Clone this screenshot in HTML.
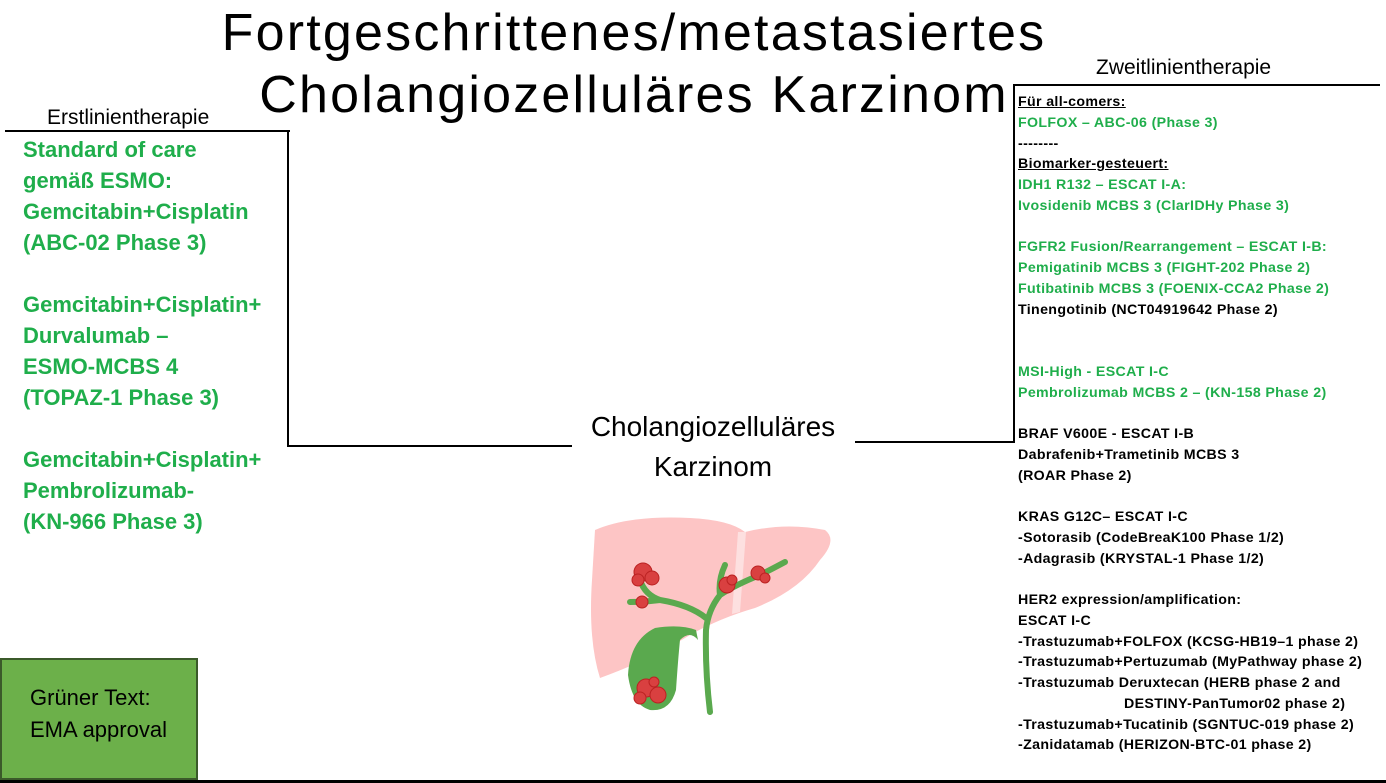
<!DOCTYPE html>
<html><head><meta charset="utf-8"><style>
body{margin:0;width:1386px;height:783px;background:#fff;position:relative;overflow:hidden;font-family:"Liberation Sans",sans-serif}
.a{position:absolute;white-space:nowrap}
.t{font-size:52px;left:0;width:1268px;text-align:center;color:#000;line-height:63px;letter-spacing:2.2px;font-weight:300}
.l{left:23px;top:134px;font-size:22px;font-weight:bold;color:#1fae4b;line-height:31px}
.r{left:1018px;top:92px;font-size:14.2px;font-weight:bold;line-height:20.75px;color:#000;letter-spacing:0.35px}
.g{color:#1fae4b}
.ln{position:absolute;background:#000}
</style></head><body>
<div class="a t" style="top:2px">Fortgeschrittenes/metastasiertes</div>
<div class="a t" style="top:64px">Cholangiozelluläres Karzinom</div>
<div class="a" style="left:47px;top:106px;font-size:21px">Erstlinientherapie</div>
<div class="a" style="left:1096px;top:56px;font-size:21px">Zweitlinientherapie</div>
<div class="a" style="left:572px;top:407px;width:282px;text-align:center;font-size:28px;line-height:40px">Cholangiozelluläres<br>Karzinom</div>
<div class="ln" style="left:5px;top:130px;width:285px;height:2px"></div>
<div class="ln" style="left:287px;top:130px;width:2px;height:317px"></div>
<div class="ln" style="left:287px;top:445px;width:285px;height:2px"></div>
<div class="ln" style="left:855px;top:441px;width:160px;height:2px"></div>
<div class="ln" style="left:1013px;top:84px;width:2px;height:359px"></div>
<div class="ln" style="left:1013px;top:84px;width:367px;height:2px"></div>
<div class="ln" style="left:0;top:780px;width:1386px;height:3px"></div>
<div class="a l">Standard of care<br>gemäß ESMO:<br>Gemcitabin+Cisplatin<br>(ABC-02 Phase 3)<br><br>Gemcitabin+Cisplatin+<br>Durvalumab –<br>ESMO-MCBS 4<br>(TOPAZ-1 Phase 3)<br><br>Gemcitabin+Cisplatin+<br>Pembrolizumab-<br>(KN-966 Phase 3)</div>
<div class="a r"><u>Für all-comers:</u><br><span class="g">FOLFOX – ABC-06 (Phase 3)</span><br>--------<br><u>Biomarker-gesteuert:</u><br><span class="g">IDH1 R132 – ESCAT I-A:<br>Ivosidenib MCBS 3 (ClarIDHy Phase 3)<br><br>FGFR2 Fusion/Rearrangement – ESCAT I-B:<br>Pemigatinib MCBS 3 (FIGHT-202 Phase 2)<br>Futibatinib MCBS 3 (FOENIX-CCA2 Phase 2)</span><br>Tinengotinib (NCT04919642 Phase 2)<br><br><br><span class="g">MSI-High - ESCAT I-C<br>Pembrolizumab MCBS 2 – (KN-158 Phase 2)</span><br><br>BRAF V600E - ESCAT I-B<br>Dabrafenib+Trametinib MCBS 3<br>(ROAR Phase 2)<br><br>KRAS G12C– ESCAT I-C<br>-Sotorasib (CodeBreaK100 Phase 1/2)<br>-Adagrasib (KRYSTAL-1 Phase 1/2)<br><br>HER2 expression/amplification:<br>ESCAT I-C<br>-Trastuzumab+FOLFOX (KCSG-HB19–1 phase 2)<br>-Trastuzumab+Pertuzumab (MyPathway phase 2)<br>-Trastuzumab Deruxtecan (HERB phase 2 and<br><span style="padding-left:106px">DESTINY-PanTumor02 phase 2)</span><br>-Trastuzumab+Tucatinib (SGNTUC-019 phase 2)<br>-Zanidatamab (HERIZON-BTC-01 phase 2)</div>
<div class="a" style="left:0;top:658px;width:198px;height:122px;background:#6cb04a;border:2px solid #3b5a2a;box-sizing:border-box;font-size:22px;line-height:32px;padding:22px 0 0 28px">Grüner Text:<br>EMA approval</div>
<svg class="a" style="left:570px;top:500px" width="280" height="230" viewBox="0 0 280 230">
<path d="M25 30 Q60 15 120 18 Q160 20 175 32 Q215 22 255 30 Q268 40 250 60 Q230 90 185 108 Q150 118 120 135 Q80 160 30 178 Q18 140 22 80 Z" fill="#fdc5c5"/>
<path d="M168 32 L176 32 L170 112 L162 114 Z" fill="#fde0e0"/>
<path d="M85 128 Q60 140 58 175 Q62 205 80 210 Q100 212 106 190 Q108 160 110 140 Q120 130 128 140 L126 130 Q110 124 85 128 Z" fill="#5aa94e"/>
<path d="M140 212 Q135 170 136 130 Q138 110 150 95 Q165 85 190 75 M136 118 Q120 105 90 100 Q75 95 70 80 M90 100 Q75 102 60 102 M150 95 Q148 80 155 65 M190 75 Q200 70 215 62" stroke="#5aa94e" stroke-width="6" fill="none" stroke-linecap="round"/>
<g fill="#d94040" stroke="#b22" stroke-width="1">
<circle cx="73" cy="72" r="9"/><circle cx="82" cy="78" r="7"/><circle cx="68" cy="80" r="6"/>
<circle cx="72" cy="102" r="6"/><circle cx="157" cy="85" r="8"/><circle cx="162" cy="80" r="5"/>
<circle cx="188" cy="73" r="7"/><circle cx="195" cy="78" r="5"/>
<circle cx="76" cy="188" r="9"/><circle cx="88" cy="195" r="8"/><circle cx="70" cy="198" r="6"/><circle cx="84" cy="182" r="5"/>
</g>
</svg>
</body></html>
